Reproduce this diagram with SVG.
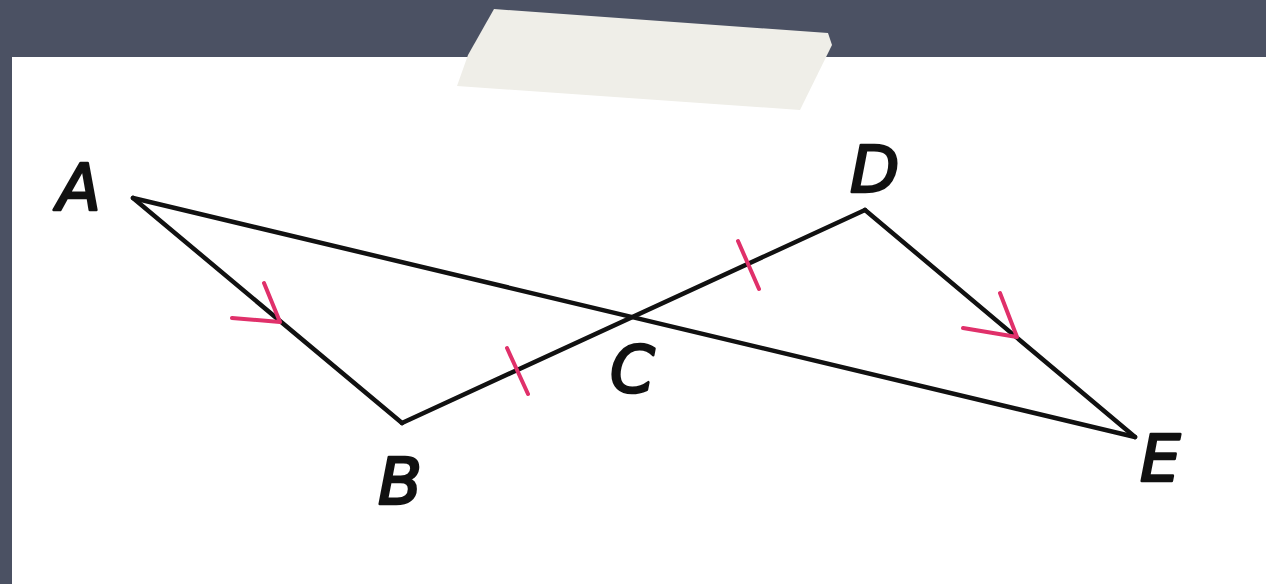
<svg xmlns="http://www.w3.org/2000/svg" width="1266" height="584" viewBox="0 0 1266 584">
<defs>
<style>
.seg{stroke:#111;stroke-width:4.5;fill:none;stroke-linecap:round}
.red{stroke:#e0306a;stroke-width:4;fill:none;stroke-linecap:round;stroke-linejoin:round}
.lbl{font-family:"DejaVu Sans","Open Sans",sans-serif;font-style:italic;font-weight:normal;font-size:64px;fill:#111;stroke:#111;stroke-width:2.6;stroke-linejoin:round}
</style>
</defs>
<rect x="0" y="0" width="1266" height="584" fill="#4b5163"/>
<rect x="12" y="57" width="1254" height="527" fill="#ffffff"/>
<polygon points="494,9 828,33 832,45 800,110 457,86 468,55" fill="#efeee8"/>
<g id="connectors">
<line class="seg" x1="133" y1="198" x2="402" y2="423"/>
<line class="seg" x1="402" y1="423" x2="865" y2="210"/>
<line class="seg" x1="133" y1="198" x2="1135" y2="437"/>
<line class="seg" x1="865" y1="210" x2="1135" y2="437"/>
<polyline class="red" points="232,318 280,322 264,283"/>
<polyline class="red" points="963,328 1017,337 1000,293"/>
<line class="red" x1="507" y1="348" x2="528" y2="394"/>
<line class="red" x1="738" y1="241" x2="759" y2="289"/>
</g>
<g id="A"><text class="lbl" x="57" y="210">A</text></g>
<g id="B"><text class="lbl" x="378" y="504">B</text></g>
<g id="C"><text class="lbl" x="610" y="392">C</text></g>
<g id="D"><text class="lbl" x="850" y="192">D</text></g>
<g id="E"><text class="lbl" x="1140" y="481">E</text></g>
</svg>
